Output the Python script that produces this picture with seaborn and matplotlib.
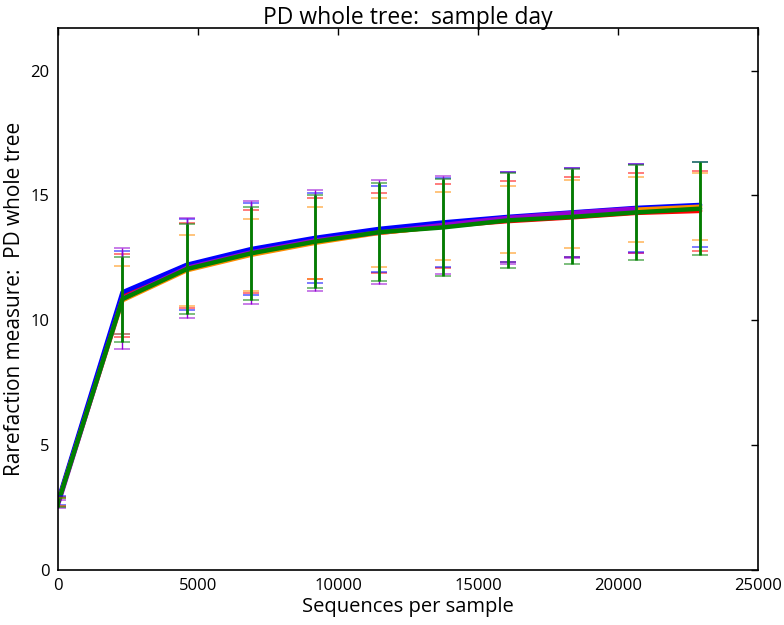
import numpy as np
import pandas as pd
import matplotlib
matplotlib.use("Agg")
import matplotlib.pyplot as plt
import seaborn as sns

# rarefaction depths (sequences per sample)
depths = [10, 2302, 4594, 6886, 9178, 11470, 13762, 16054, 18346, 20638, 22930]

# mean PD whole tree per sample day group, and standard deviations
red_mean = [2.75, 11.00, 12.20, 12.75, 13.27, 13.50, 13.77, 13.97, 14.12, 14.30, 14.38]
red_sd = [0.18, 1.65, 1.70, 1.65, 1.63, 1.60, 1.67, 1.62, 1.60, 1.60, 1.60]
blue_mean = [2.80, 11.12, 12.22, 12.85, 13.30, 13.66, 13.92, 14.14, 14.32, 14.50, 14.62]
blue_sd = [0.18, 1.65, 1.82, 1.83, 1.80, 1.73, 1.78, 1.80, 1.78, 1.77, 1.70]
orange_mean = [2.72, 10.80, 12.00, 12.62, 13.10, 13.50, 13.76, 14.03, 14.25, 14.43, 14.55]
orange_sd = [0.15, 1.36, 1.43, 1.43, 1.43, 1.38, 1.36, 1.33, 1.35, 1.30, 1.35]
purple_mean = [2.65, 10.87, 12.10, 12.72, 13.20, 13.52, 13.82, 14.10, 14.30, 14.47, np.nan]
purple_sd = [0.15, 2.03, 2.00, 2.05, 2.03, 2.08, 1.97, 1.85, 1.80, 1.79, np.nan]
green_mean = [2.72, 10.85, 12.05, 12.68, 13.15, 13.53, 13.72, 14.00, 14.14, 14.32, 14.47]
green_sd = [0.18, 1.70, 1.80, 1.85, 1.85, 1.97, 1.95, 1.91, 1.90, 1.89, 1.85]

groups = {
    "red": (red_mean, red_sd),
    "blue": (blue_mean, blue_sd),
    "#ff8c00": (orange_mean, orange_sd),
    "#9400d3": (purple_mean, purple_sd),
    "green": (green_mean, green_sd),
}

rows = []
for name, (m, s) in groups.items():
    for d, v, e in zip(depths, m, s):
        rows.append({"depth": d, "pd": v, "sd": e, "group": name})
df = pd.DataFrame(rows)

sns.set_style("white")
plt.rcParams["font.family"] = ["Open Sans", "DejaVu Sans"]
plt.rcParams["xtick.direction"] = "in"
plt.rcParams["ytick.direction"] = "in"
plt.rcParams["text.color"] = "black"
plt.rcParams["axes.labelcolor"] = "black"
plt.rcParams["xtick.color"] = "black"
plt.rcParams["ytick.color"] = "black"

fig = plt.figure(figsize=(7.84, 6.25), dpi=100)
ax = fig.add_axes([0.074, 0.088, 0.893, 0.867])

sns.lineplot(data=df.dropna(), x="depth", y="pd", hue="group",
             palette={k: k for k in groups}, linewidth=3.2, legend=False,
             ax=ax, estimator=None, sort=True)

# error bars; green is drawn last, so its vertical bars sit on top
for name, (m, s) in groups.items():
    sub = df[df["group"] == name].dropna()
    lw = 2.0 if name == "green" else 1.0
    _, caps, bars = ax.errorbar(sub["depth"], sub["pd"], yerr=sub["sd"],
                                fmt="none", ecolor=name, elinewidth=lw,
                                capsize=6, capthick=1.2)
    for c in caps:
        c.set_alpha(0.6)

ax.set_xlim(0, 25000)
ax.set_ylim(0, 21.7)
ax.set_xticks([0, 5000, 10000, 15000, 20000, 25000])
ax.set_yticks([0, 5, 10, 15, 20])
ax.tick_params(axis="both", labelsize=12, length=5, width=1,
               top=True, right=True, pad=6)
for sp in ax.spines.values():
    sp.set_color("black")
    sp.set_linewidth(1.2)

ax.set_title("PD whole tree:  sample day", fontsize=16.5, pad=3)
ax.set_xlabel("Sequences per sample", fontsize=14.5, labelpad=2)
ax.set_ylabel("Rarefaction measure:  PD whole tree", fontsize=15, labelpad=4)

fig.savefig("out.png", dpi=100)
